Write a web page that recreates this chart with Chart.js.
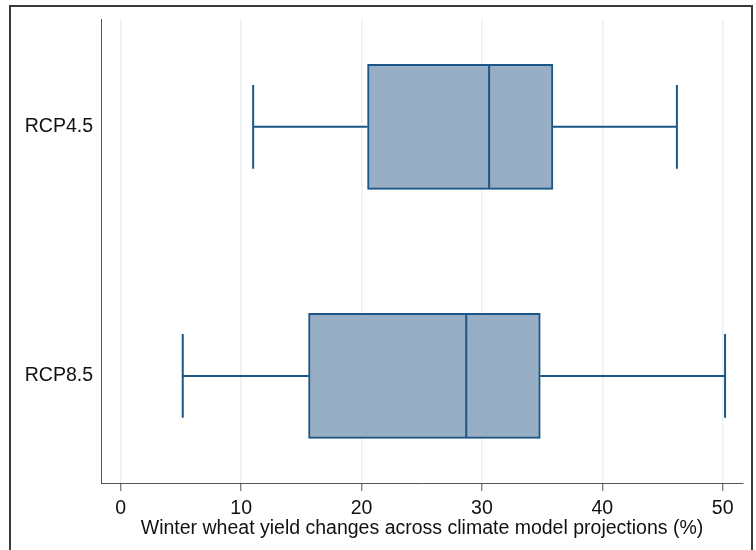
<!DOCTYPE html>
<html>
<head>
<meta charset="utf-8">
<script src="https://cdn.jsdelivr.net/npm/chart.js@4.4.1/dist/chart.umd.min.js"></script>
<style>
  body { margin: 0; background: #fff; }
  #frame {
    position: absolute; left: 9px; top: 5px;
    width: 740px; height: 600px;
    border: 2px solid #3a3a3a;
  }
  #wrap { position: absolute; left: 0; top: 0; width: 756px; height: 550px; }
</style>
</head>
<body>
<div id="frame"></div>
<div id="wrap"><canvas id="chart" width="756" height="550"></canvas></div>
<script>
// box plot summary per scenario (percent yield change)
const scenarios = ["RCP4.5", "RCP8.5"];
const positions = [1, 2];
const whiskerLow = [11.0, 5.15];
const q1 = [20.5, 15.6];
const median = [30.6, 28.7];
const q3 = [35.9, 34.85];
const whiskerHigh = [46.2, 50.2];
const xTicks = [0, 10, 20, 30, 40, 50];

const lineColor = "rgb(28, 86, 134)";
const fillColor = "rgb(151, 174, 196)";
const textFont = { family: "Liberation Sans, Arial, sans-serif", size: 19.5 };

// whiskers, caps and median lines, placed through the chart scales
const boxLines = {
   id: "boxLines",
   afterDatasetsDraw(chart) {
      const { ctx, scales: { x, y } } = chart;
      const meta = chart.getDatasetMeta(0);
      ctx.save();
      ctx.strokeStyle = lineColor;
      ctx.lineWidth = 2;
      positions.forEach((p, i) => {
         const cy = y.getPixelForValue(p);
         const half = meta.data[i].height / 2;
         const cap = half * 0.67;
         const xl = x.getPixelForValue(whiskerLow[i]);
         const x1 = x.getPixelForValue(q1[i]);
         const xm = x.getPixelForValue(median[i]);
         const x3 = x.getPixelForValue(q3[i]);
         const xh = x.getPixelForValue(whiskerHigh[i]);
         ctx.beginPath();
         ctx.moveTo(xl, cy); ctx.lineTo(x1, cy);
         ctx.moveTo(x3, cy); ctx.lineTo(xh, cy);
         ctx.moveTo(xl, cy - cap); ctx.lineTo(xl, cy + cap);
         ctx.moveTo(xh, cy - cap); ctx.lineTo(xh, cy + cap);
         ctx.moveTo(xm, cy - half + 1); ctx.lineTo(xm, cy + half - 1);
         ctx.stroke();
      });
      ctx.restore();
   },
};

const data = {
   datasets: [
      {
         data: positions.map((p, i) => ({ y: p, x: [q1[i], q3[i]] })),
         backgroundColor: fillColor,
         borderColor: lineColor,
         borderWidth: 2,
         borderSkipped: false,
         barThickness: 125,
      },
   ],
};

const config = {
   type: "bar",
   data: data,
   options: {
      indexAxis: "y",
      responsive: false,
      animation: false,
      events: [],
      layout: { padding: { left: 0, top: 19, right: 13, bottom: 10 } },
      plugins: { legend: { display: false }, title: { display: false }, tooltip: { enabled: false } },
      scales: {
         x: {
            type: "linear",
            min: -1.64,
            max: 51.69,
            offset: false,
            afterBuildTicks: (scale) => {
               scale.ticks = xTicks.map((v) => ({ value: v }));
            },
            afterFit: (scale) => {
               scale.height = 57;
            },
            grid: {
               color: "#e8f0f2",
               lineWidth: 1.5,
               tickColor: "#555",
               tickLength: 8,
               tickWidth: 1,
            },
            border: { display: true, color: "#555", width: 1 },
            ticks: { padding: 6, color: "#111", font: textFont },
            title: {
               display: true,
               text: "Winter wheat yield changes across climate model projections (%)",
               color: "#111",
               padding: 0,
               font: textFont,
            },
         },
         y: {
            type: "linear",
            min: 0.57,
            max: 2.43,
            reverse: true,
            offset: false,
            afterBuildTicks: (scale) => {
               scale.ticks = positions.map((v) => ({ value: v }));
            },
            afterFit: (scale) => {
               scale.width = 101;
            },
            grid: { display: false, drawTicks: false },
            border: { display: true, color: "#555", width: 1 },
            ticks: {
               padding: 8,
               color: "#111",
               font: textFont,
               callback: (value) => scenarios[positions.indexOf(value)],
            },
         },
      },
   },
   plugins: [boxLines],
};

const myChart = new Chart(document.getElementById("chart"), config);
</script>
</body>
</html>
